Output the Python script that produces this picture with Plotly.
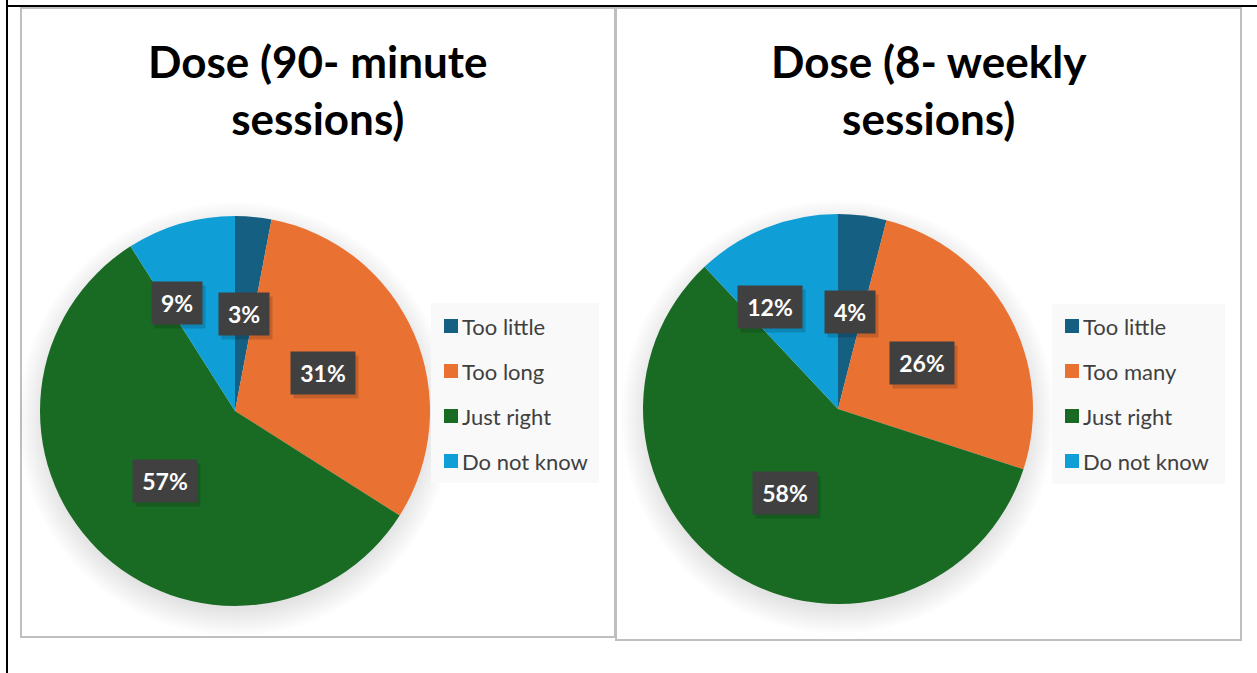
import math
import plotly.graph_objects as go

# ---------------- data ----------------
titles = ["Dose (90- minute<br>sessions)", "Dose (8- weekly<br>sessions)"]
labels_left = ["Too little", "Too long", "Just right", "Do not know"]
labels_right = ["Too little", "Too many", "Just right", "Do not know"]
values_left = [3, 31, 57, 9]
values_right = [4, 26, 58, 12]
colors = ["#156082", "#E97132", "#196B24", "#0F9ED5"]

# ---------------- layout constants (pixels) ----------------
W, H = 1257, 673
R = 195
pie_centers = [(235, 411), (838, 409)]
title_pos = [(318, 90), (929, 90)]
frames = [(21, 8, 615, 637), (616, 8, 1241, 640)]
legend_boxes = [(431, 303, 599, 483), (1052, 304, 1225, 484)]
legend_square_x = [444, 1065]
legend_first_y = 326
legend_step = 45
label_rfrac = [0.5, 0.49, 0.51, 0.63]
label_dang = [0, 0, 0, -12]


def px(x):
    return x / W


def py(y):
    return 1 - y / H


fig = go.Figure()
shapes = []
annotations = []

# outer table lines
shapes.append(dict(type="line", xref="paper", yref="paper", x0=px(7), x1=px(7), y0=0, y1=1,
                   line=dict(color="black", width=2), layer="above"))
shapes.append(dict(type="line", xref="paper", yref="paper", x0=px(6), x1=1, y0=py(6), y1=py(6),
                   line=dict(color="black", width=2), layer="above"))

charts = [(labels_left, values_left), (labels_right, values_right)]
for i, (labs, vals) in enumerate(charts):
    cx, cy = pie_centers[i]
    # frame
    fx0, fy0, fx1, fy1 = frames[i]
    shapes.append(dict(type="rect", xref="paper", yref="paper", x0=px(fx0), x1=px(fx1),
                       y0=py(fy1), y1=py(fy0), line=dict(color="#BFBFBF", width=2),
                       fillcolor="white", layer="below"))
    # soft shadow under pie
    for k in range(14):
        rr = R - 4 + 2 * k
        shapes.append(dict(type="circle", xref="paper", yref="paper",
                           x0=px(cx - rr), x1=px(cx + rr),
                           y0=py(cy + 8 + rr), y1=py(cy + 8 - rr),
                           line=dict(width=0), fillcolor="rgba(0,0,0,0.009)", layer="below"))
    # pie
    fig.add_trace(go.Pie(
        labels=labs, values=vals, sort=False, direction="clockwise", rotation=0,
        marker=dict(colors=colors, line=dict(width=0)), textinfo="none",
        showlegend=False,
        domain=dict(x=[px(cx - R), px(cx + R)], y=[py(cy + R), py(cy - R)]),
    ))
    # title
    tx, ty = title_pos[i]
    annotations.append(dict(text="<b>" + titles[i] + "</b>", xref="paper", yref="paper",
                            x=px(tx), y=py(ty), xanchor="center", yanchor="middle",
                            showarrow=False, font=dict(family="Lato", size=44, color="black")))
    # data labels
    total = sum(vals)
    cum = 0
    for j, v in enumerate(vals):
        mid = (cum + v / 2) / total * 360 + label_dang[j]
        cum += v
        r = R * label_rfrac[j]
        lx = cx + r * math.sin(math.radians(mid))
        ly = cy - r * math.cos(math.radians(mid))
        txt = f"{v}%"
        bw = 34 if len(txt) <= 2 else 48
        # shadow
        annotations.append(dict(text=" ", xref="paper", yref="paper", x=px(lx + 3), y=py(ly + 4),
                                xanchor="center", yanchor="middle", showarrow=False,
                                width=bw, height=26, borderpad=8,
                                bgcolor="rgba(0,0,0,0.15)", font=dict(size=22)))
        annotations.append(dict(text=f"<b>{txt}</b>", xref="paper", yref="paper", x=px(lx), y=py(ly),
                                xanchor="center", yanchor="middle", showarrow=False,
                                width=bw, height=26, borderpad=8, bgcolor="#404040",
                                font=dict(family="Lato", size=23, color="white")))
    # legend
    lx0, ly0, lx1, ly1 = legend_boxes[i]
    shapes.append(dict(type="rect", xref="paper", yref="paper", x0=px(lx0), x1=px(lx1),
                       y0=py(ly1), y1=py(ly0), line=dict(width=0), fillcolor="#F9F9F9",
                       layer="below"))
    sx = legend_square_x[i]
    for j, lab in enumerate(labs):
        yy = legend_first_y + j * legend_step
        shapes.append(dict(type="rect", xref="paper", yref="paper", x0=px(sx), x1=px(sx + 14),
                           y0=py(yy + 7), y1=py(yy - 7), line=dict(width=0),
                           fillcolor=colors[j], layer="above"))
        annotations.append(dict(text=lab, xref="paper", yref="paper", x=px(sx + 16), y=py(yy),
                                xanchor="left", yanchor="middle", showarrow=False,
                                font=dict(family="Lato", size=22, color="#404040")))

fig.update_layout(
    width=W, height=H, autosize=False,
    margin=dict(l=0, r=0, t=0, b=0, pad=0),
    paper_bgcolor="white", plot_bgcolor="white",
    shapes=shapes, annotations=annotations,
    font=dict(family="Lato"),
)

fig.write_html("out.html")
